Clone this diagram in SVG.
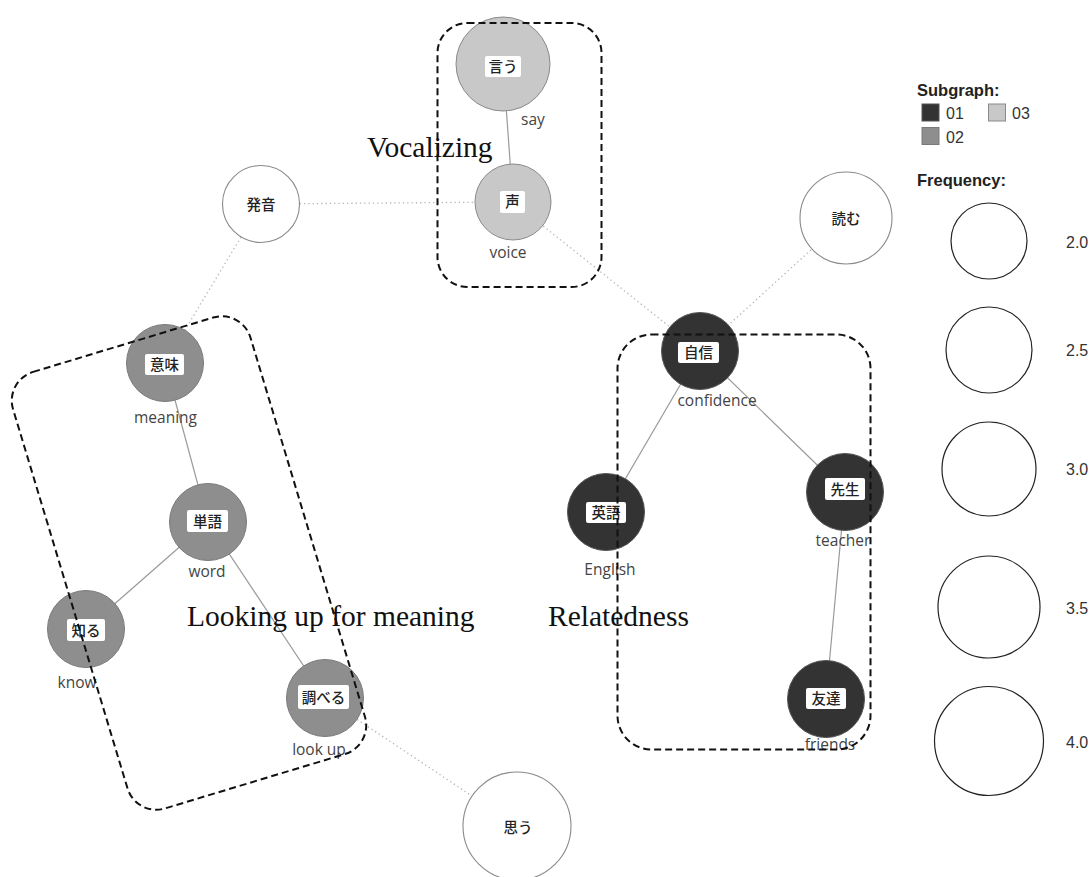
<svg xmlns="http://www.w3.org/2000/svg" width="1091" height="877" viewBox="0 0 1091 877">
  <style>
    .solid { stroke: #9a9a9a; stroke-width: 1.2; fill: none; }
    .dotted { stroke: #b4b4b4; stroke-width: 1.3; stroke-dasharray: 1.3 3; fill: none; }
    .g1 { fill: #333333; stroke: #555555; stroke-width: 1; }
    .g2 { fill: #8e8e8e; stroke: #7a7a7a; stroke-width: 1; }
    .g3 { fill: #c8c8c8; stroke: #8a8a8a; stroke-width: 1; }
    .g0 { fill: #ffffff; stroke: #8a8a8a; stroke-width: 1.1; }
    .lblbox { fill: #ffffff; stroke: none; }
    .jp { font-family: "Noto Sans CJK JP", "Noto Sans", sans-serif; font-size: 14.5px; font-weight: 500; fill: #222222; text-anchor: middle; }
    .en { font-family: "Open Sans", "Noto Sans", sans-serif; font-size: 15.5px; fill: #444444; text-anchor: middle; }
    .group { fill: none; stroke: #111111; stroke-width: 2; stroke-dasharray: 7 4; }
    .theme { font-family: "Liberation Serif", "Times New Roman", serif; font-size: 29.5px; fill: #111111; }
    .legtitle { font-family: "Liberation Sans", Arial, sans-serif; font-size: 16.5px; font-weight: bold; fill: #222222; }
    .legtxt { font-family: "Liberation Sans", Arial, sans-serif; font-size: 16px; fill: #333333; }
    .sizec { fill: #ffffff; stroke: #222222; stroke-width: 1.2; }
  </style>

  <rect x="0" y="0" width="1091" height="877" fill="#ffffff"/>

  <!-- connectors -->
  <g id="connectors">
    <line class="solid" x1="503" y1="64" x2="513" y2="202"/>
    <line class="dotted" x1="261" y1="204" x2="513" y2="202"/>
    <line class="dotted" x1="513" y1="202" x2="700" y2="351"/>
    <line class="dotted" x1="846" y1="218" x2="700" y2="351"/>
    <line class="dotted" x1="261" y1="204" x2="165" y2="363"/>
    <line class="solid" x1="165" y1="363" x2="208" y2="522"/>
    <line class="solid" x1="208" y1="522" x2="86" y2="629"/>
    <line class="solid" x1="208" y1="522" x2="325" y2="698"/>
    <line class="dotted" x1="325" y1="698" x2="517" y2="826"/>
    <line class="solid" x1="700" y1="351" x2="606" y2="512"/>
    <line class="solid" x1="700" y1="351" x2="845" y2="492"/>
    <line class="solid" x1="845" y1="492" x2="826" y2="699"/>
  </g>

  <!-- nodes -->
  <g id="node-iu">
    <circle class="g3" cx="503" cy="64" r="47"/>
    <rect class="lblbox" x="485" y="56" width="36" height="21" rx="2"/>
    <text class="jp" x="503" y="71.5">言う</text>
    <text class="en" x="533" y="125">say</text>
  </g>
  <g id="node-koe">
    <circle class="g3" cx="513" cy="202" r="38"/>
    <rect class="lblbox" x="500" y="191" width="25" height="22" rx="2"/>
    <text class="jp" x="512.5" y="207">声</text>
    <text class="en" x="508" y="258">voice</text>
  </g>
  <g id="node-hatsuon">
    <circle class="g0" cx="261" cy="204" r="38.5"/>
    <text class="jp" x="261" y="209.5">発音</text>
  </g>
  <g id="node-yomu">
    <circle class="g0" cx="846" cy="218" r="46"/>
    <text class="jp" x="846" y="223.5">読む</text>
  </g>
  <g id="node-jishin">
    <circle class="g1" cx="700" cy="351" r="38.5"/>
    <rect class="lblbox" x="678" y="342" width="41" height="21" rx="2"/>
    <text class="jp" x="698.5" y="357.5">自信</text>
    <text class="en" x="717" y="406">confidence</text>
  </g>
  <g id="node-eigo">
    <circle class="g1" cx="606" cy="512" r="38.5"/>
    <rect class="lblbox" x="586" y="502" width="40" height="21" rx="2"/>
    <text class="jp" x="606" y="518">英語</text>
    <text class="en" x="610" y="575">English</text>
  </g>
  <g id="node-sensei">
    <circle class="g1" cx="845" cy="492" r="38.5"/>
    <rect class="lblbox" x="825" y="478" width="40" height="22" rx="2"/>
    <text class="jp" x="845" y="494.5">先生</text>
    <text class="en" x="843" y="546">teacher</text>
  </g>
  <g id="node-tomodachi">
    <circle class="g1" cx="826" cy="699" r="38.5"/>
    <rect class="lblbox" x="806" y="688" width="40" height="21" rx="2"/>
    <text class="jp" x="826" y="704">友達</text>
    <text class="en" x="830" y="750">friends</text>
  </g>
  <g id="node-imi">
    <circle class="g2" cx="165" cy="363" r="38.5"/>
    <rect class="lblbox" x="145" y="354" width="39" height="21" rx="2"/>
    <text class="jp" x="164.5" y="369.5">意味</text>
    <text class="en" x="165.5" y="423">meaning</text>
  </g>
  <g id="node-tango">
    <circle class="g2" cx="208" cy="522" r="38.5"/>
    <rect class="lblbox" x="187" y="510" width="41" height="22" rx="2"/>
    <text class="jp" x="207.5" y="526.5">単語</text>
    <text class="en" x="207" y="577">word</text>
  </g>
  <g id="node-shiru">
    <circle class="g2" cx="86" cy="629" r="38.5"/>
    <rect class="lblbox" x="67" y="619" width="38" height="22" rx="2"/>
    <text class="jp" x="86" y="635.5">知る</text>
    <text class="en" x="77" y="688">know</text>
  </g>
  <g id="node-shiraberu">
    <circle class="g2" cx="325" cy="698" r="38.5"/>
    <rect class="lblbox" x="298" y="685" width="51" height="24" rx="2"/>
    <text class="jp" x="323.5" y="702.5">調べる</text>
    <text class="en" x="319" y="755">look up</text>
  </g>
  <g id="node-omou">
    <circle class="g0" cx="517" cy="826" r="54"/>
    <text class="jp" x="518" y="833">思う</text>
  </g>

  <!-- subgraph outlines and theme captions -->
  <g id="cluster-vocalizing">
    <rect class="group" x="437.5" y="23" width="164" height="264" rx="30"/>
    <text class="theme" x="367" y="157">Vocalizing</text>
  </g>
  <g id="cluster-lookup">
    <rect class="group" x="-124" y="-228" width="248" height="456" rx="30" transform="translate(189,563) rotate(-16.8)"/>
    <text class="theme" x="187" y="626">Looking up for meaning</text>
  </g>
  <g id="cluster-relatedness">
    <rect class="group" x="617.5" y="334.5" width="253" height="415" rx="34"/>
    <text class="theme" x="548" y="626">Relatedness</text>
  </g>

  <!-- legend -->
  <g id="legend">
    <text class="legtitle" x="917" y="96">Subgraph:</text>
    <rect x="922" y="104" width="17" height="17" fill="#333333" stroke="#555555" stroke-width="1"/>
    <text class="legtxt" x="946" y="119">01</text>
    <rect x="988.5" y="104" width="17" height="17" fill="#c8c8c8" stroke="#8a8a8a" stroke-width="1"/>
    <text class="legtxt" x="1012" y="119">03</text>
    <rect x="922" y="127.5" width="17" height="17" fill="#8e8e8e" stroke="#7a7a7a" stroke-width="1"/>
    <text class="legtxt" x="946" y="143">02</text>

    <text class="legtitle" x="917" y="186">Frequency:</text>
    <circle class="sizec" cx="989" cy="241" r="38"/>
    <text class="legtxt" x="1066" y="248">2.0</text>
    <circle class="sizec" cx="989" cy="350" r="43"/>
    <text class="legtxt" x="1066" y="356">2.5</text>
    <circle class="sizec" cx="989" cy="469" r="47"/>
    <text class="legtxt" x="1066" y="475">3.0</text>
    <circle class="sizec" cx="989" cy="607" r="51"/>
    <text class="legtxt" x="1066" y="614">3.5</text>
    <circle class="sizec" cx="989" cy="741" r="54.5"/>
    <text class="legtxt" x="1066" y="748">4.0</text>
  </g>
</svg>
